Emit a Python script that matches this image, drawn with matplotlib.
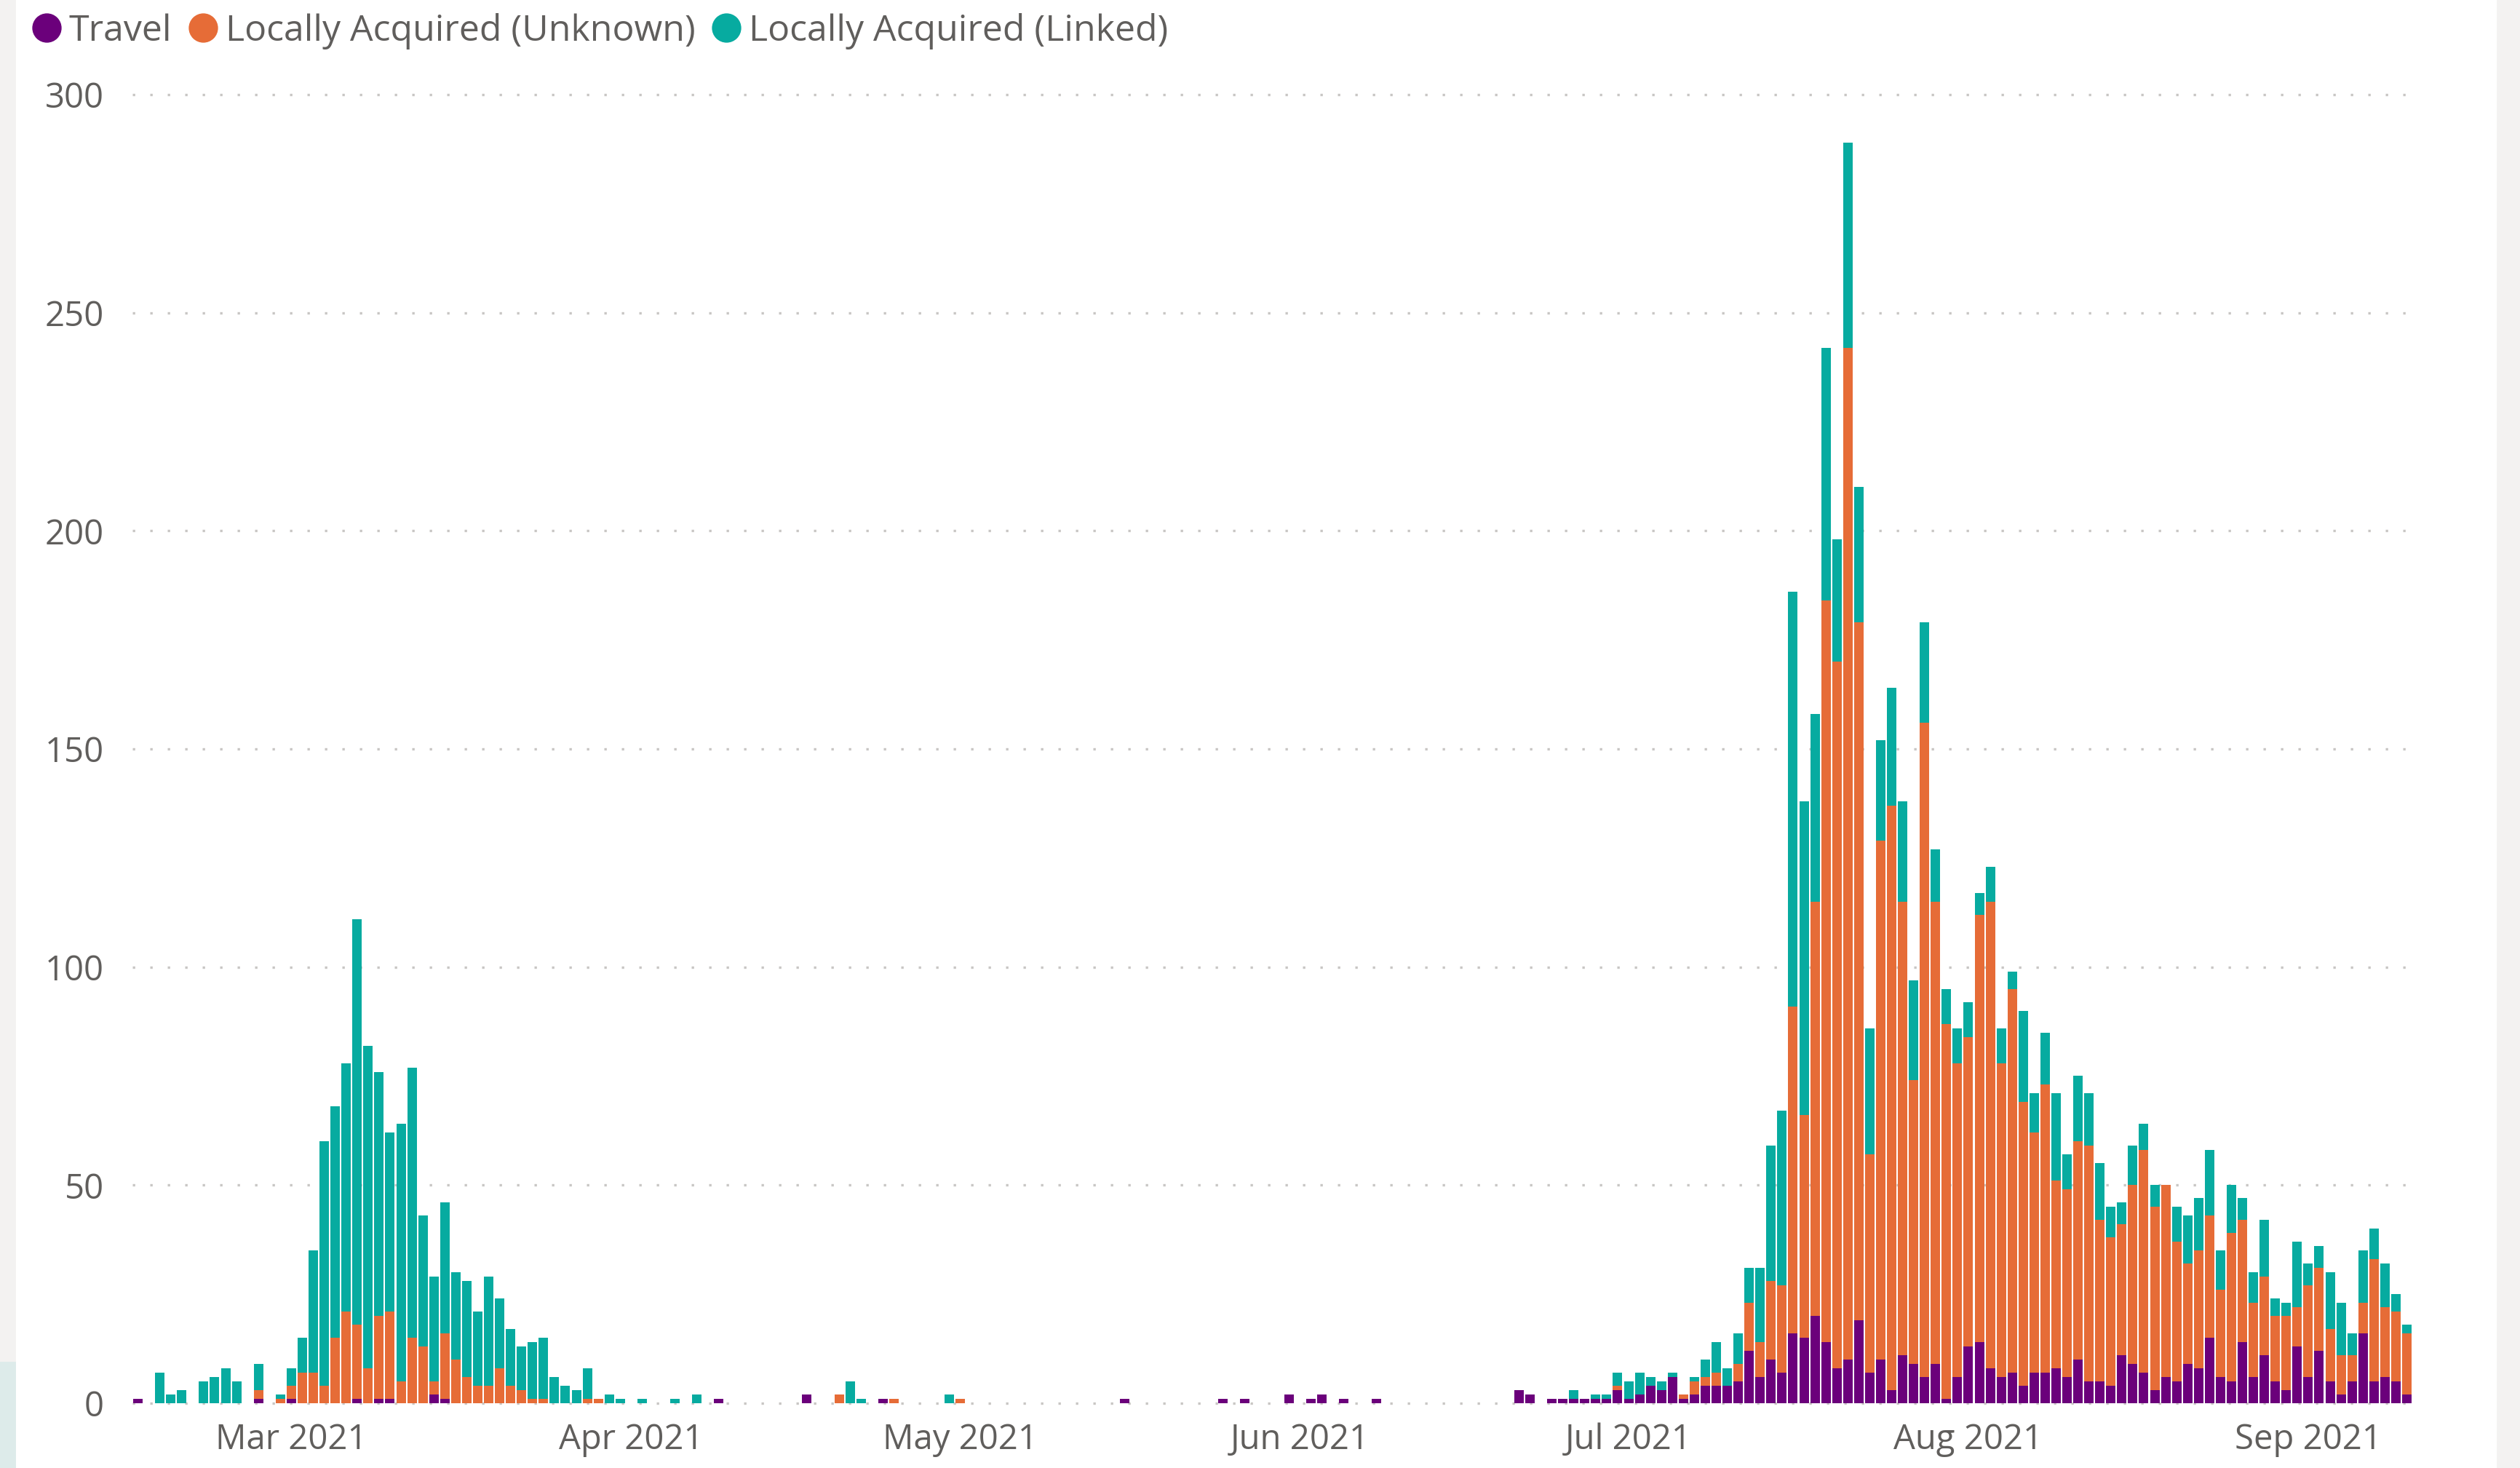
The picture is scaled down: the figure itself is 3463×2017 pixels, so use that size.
import numpy as np
import pandas as pd
import matplotlib
matplotlib.use("Agg")
import matplotlib.pyplot as plt
import matplotlib.dates as mdates
from matplotlib.lines import Line2D
from matplotlib.patches import Rectangle

# daily case counts, 15 Feb 2021 - 10 Sep 2021 (one value per day)
start_date = "2021-02-15"
end_date = "2021-09-10"

travel = (
    [1, 0, 0, 0, 0, 0, 0, 0, 0, 0, 0, 1, 0, 0]  # Feb
    + [1, 0, 0, 0, 0, 0, 1, 0, 1, 1, 0, 0, 0, 2, 1, 0, 0, 0, 0, 0,
       0, 0, 0, 0, 0, 0, 0, 0, 0, 0, 0]  # Mar
    + [0, 0, 0, 0, 0, 0, 0, 0, 1, 0, 0, 0, 0, 0, 0, 0, 2, 0, 0, 0,
       0, 0, 0, 1, 0, 0, 0, 0, 0, 0]  # Apr
    + [0, 0, 0, 0, 0, 0, 0, 0, 0, 0, 0, 0, 0, 0, 0, 1, 0, 0, 0, 0,
       0, 0, 0, 0, 1, 0, 1, 0, 0, 0, 2]  # May
    + [0, 1, 2, 0, 1, 0, 0, 1, 0, 0, 0, 0, 0, 0, 0, 0, 0, 0, 0, 0,
       3, 2, 0, 1, 1, 1, 1, 1, 1, 3]  # Jun
    + [1, 2, 4, 3, 6, 1, 2, 4, 4, 4, 5, 12, 6, 10, 7, 16, 15, 20, 14, 8,
       10, 19, 7, 10, 3, 11, 9, 6, 9, 1, 6]  # Jul
    + [13, 14, 8, 6, 7, 4, 7, 7, 8, 6, 10, 5, 5, 4, 11, 9, 7, 3, 6, 5,
       9, 8, 15, 6, 5, 14, 6, 11, 5, 3, 13]  # Aug
    + [6, 12, 5, 2, 5, 16, 5, 6, 5, 2]  # Sep
)

unknown = (
    [0, 0, 0, 0, 0, 0, 0, 0, 0, 0, 0, 2, 0, 1]
    + [3, 7, 7, 4, 15, 21, 17, 8, 19, 20, 5, 15, 13, 3, 15, 10, 6, 4, 4, 8,
       4, 3, 1, 1, 0, 0, 0, 1, 1, 0, 0]
    + [0, 0, 0, 0, 0, 0, 0, 0, 0, 0, 0, 0, 0, 0, 0, 0, 0, 0, 0, 2,
       0, 0, 0, 0, 1, 0, 0, 0, 0, 0]
    + [1, 0, 0, 0, 0, 0, 0, 0, 0, 0, 0, 0, 0, 0, 0, 0, 0, 0, 0, 0,
       0, 0, 0, 0, 0, 0, 0, 0, 0, 0, 0]
    + [0, 0, 0, 0, 0, 0, 0, 0, 0, 0, 0, 0, 0, 0, 0, 0, 0, 0, 0, 0,
       0, 0, 0, 0, 0, 0, 0, 0, 0, 1]
    + [0, 0, 0, 0, 0, 1, 3, 2, 3, 0, 4, 11, 8, 18, 20, 75, 51, 95, 170, 162,
       232, 160, 50, 119, 134, 104, 65, 150, 106, 86, 72]
    + [71, 98, 107, 72, 88, 65, 55, 66, 43, 43, 50, 54, 37, 34, 30, 41, 51, 42, 44, 32,
       23, 27, 28, 20, 34, 28, 17, 18, 15, 17, 9]
    + [21, 19, 12, 9, 6, 7, 28, 16, 16, 14]
)

linked = (
    [0, 0, 7, 2, 3, 0, 5, 6, 8, 5, 0, 6, 0, 1]
    + [4, 8, 28, 56, 53, 57, 93, 74, 56, 41, 59, 62, 30, 24, 30, 20, 22, 17, 25, 16,
       13, 10, 13, 14, 6, 4, 3, 7, 0, 2, 1]
    + [0, 1, 0, 0, 1, 0, 2, 0, 0, 0, 0, 0, 0, 0, 0, 0, 0, 0, 0, 0,
       5, 1, 0, 0, 0, 0, 0, 0, 0, 2]
    + [0, 0, 0, 0, 0, 0, 0, 0, 0, 0, 0, 0, 0, 0, 0, 0, 0, 0, 0, 0,
       0, 0, 0, 0, 0, 0, 0, 0, 0, 0, 0]
    + [0, 0, 0, 0, 0, 0, 0, 0, 0, 0, 0, 0, 0, 0, 0, 0, 0, 0, 0, 0,
       0, 0, 0, 0, 0, 2, 0, 1, 1, 3]
    + [4, 5, 2, 2, 1, 0, 1, 4, 7, 4, 7, 8, 17, 31, 40, 95, 72, 43, 58, 28,
       47, 31, 29, 23, 27, 23, 23, 23, 12, 8, 8]
    + [8, 5, 8, 8, 4, 21, 9, 12, 20, 8, 15, 12, 13, 7, 5, 9, 6, 5, 0, 8,
       11, 12, 15, 9, 11, 5, 7, 13, 4, 3, 15]
    + [5, 5, 13, 12, 5, 12, 7, 10, 4, 2]
)

series_names = ["Travel", "Locally Acquired (Unknown)", "Locally Acquired (Linked)"]
colors = ["#6B007B", "#E66C37", "#07ABA0"]
y_ticks = [0, 50, 100, 150, 200, 250, 300]

dates = pd.date_range(start_date, end_date, freq="D")
travel = np.array(travel)
unknown = np.array(unknown)
linked = np.array(linked)

plt.rcParams["font.family"] = ["Open Sans", "DejaVu Sans"]
text_color = "#605E5C"

W, H = 3463, 2017
fig = plt.figure(figsize=(W / 200, H / 200), dpi=200)
fig.patch.set_facecolor("white")

# light report-canvas strips at the edges
fig.patches.append(Rectangle((0, 0), 20 / W, 1, transform=fig.transFigure,
                             color="#F3F2F1", zorder=-2))
fig.patches.append(Rectangle((0, 0), 20 / W, 145 / H, transform=fig.transFigure,
                             color="#DDEBEA", zorder=-1))
fig.patches.append(Rectangle((3432 / W, 0), 1, 1, transform=fig.transFigure,
                             color="#F3F2F1", zorder=-2))

ax = fig.add_axes([182 / W, 1 - 1934 / H, (3315 - 182) / W, 1834 / H])

# stacked bars: travel at the bottom, then unknown, then linked
bw = 0.86
ax.bar(dates, travel, width=bw, color=colors[0], zorder=3)
ax.bar(dates, unknown, width=bw, bottom=travel, color=colors[1], zorder=3)
ax.bar(dates, linked, width=bw, bottom=travel + unknown, color=colors[2], zorder=3)

ax.set_ylim(-1, 305)
ax.set_xlim(dates[0] - pd.Timedelta(hours=12), dates[-1] + pd.Timedelta(hours=12))

ax.set_yticks(y_ticks)
ax.xaxis.set_major_locator(mdates.MonthLocator())
ax.xaxis.set_major_formatter(mdates.DateFormatter("%b %Y"))

for s in ax.spines.values():
    s.set_visible(False)
ax.tick_params(axis="both", length=0, labelsize=17, labelcolor=text_color)
ax.tick_params(axis="y", pad=14)
ax.tick_params(axis="x", pad=7.5)

# dotted horizontal gridlines
ax.yaxis.grid(True, color="#C8C6C4", linewidth=1.2, linestyle=(0, (1, 6.2)), zorder=0)
ax.xaxis.grid(False)

# legend with round markers along the top
handles = [Line2D([], [], marker="o", linestyle="", markersize=13.5,
                  markerfacecolor=c, markeredgecolor=c) for c in colors]
fig.legend(handles, series_names, loc="center left",
           bbox_to_anchor=(46 / W, 1 - 43 / H), ncol=3, frameon=False,
           fontsize=18, labelcolor=text_color, handlelength=0.72,
           handletextpad=0.25, columnspacing=0.5, borderpad=0, borderaxespad=0)

fig.savefig("out.png", dpi=200)
